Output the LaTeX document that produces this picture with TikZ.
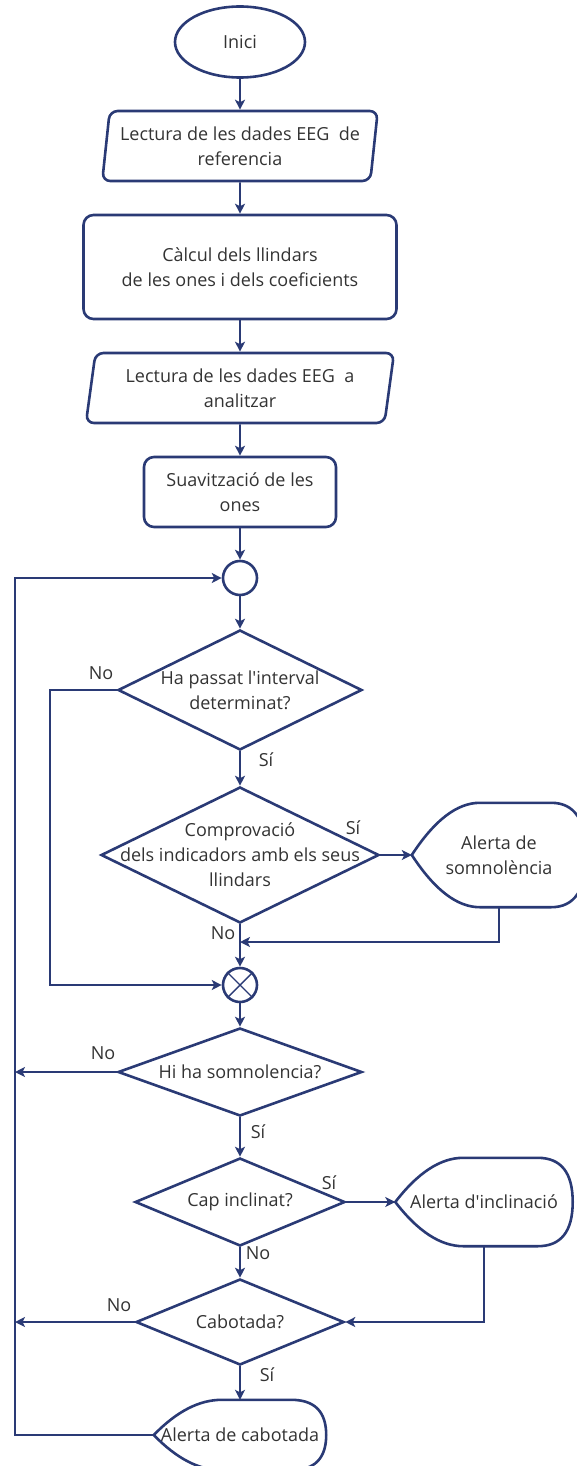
\documentclass[tikz,border=0pt]{standalone}
\usepackage{fontspec}
\setmainfont{Open Sans}
\usetikzlibrary{arrows.meta,calc,shapes.geometric}
\definecolor{cLine}{RGB}{42,58,117}
\definecolor{cText}{RGB}{51,51,51}
\tikzset{
  >={Stealth[length=10pt,width=10pt,inset=2.5pt]},
  shp/.style={draw=cLine,line width=2.6pt,text=cText,align=center,inner sep=0pt},
  term/.style={shp,ellipse,minimum width=130pt,minimum height=71pt},
  io/.style={shp,trapezium,trapezium stretches=true,rounded corners=8pt,
             minimum height=70pt},
  proc/.style={shp,rectangle,rounded corners=10pt},
  dec/.style={shp,diamond,minimum width=244pt,minimum height=88pt},% text goes in as label
  jn/.style={shp,circle,minimum size=34pt},
  disp/.style={align=center,text=cText,inner sep=0pt,minimum width=174pt},
  flow/.style={->,draw=cLine,line width=1.6pt},
  lbl/.style={text=cText,inner sep=0pt},
}

\begin{document}
\begin{tikzpicture}[x=1pt,y=-1pt,font=\fontsize{18}{25}\selectfont]
  \useasboundingbox (0,0) rectangle (577,1466);

  \node[term] (inici) at (240,42) {Inici};
  \node[io,minimum width=276pt,trapezium left angle=80,trapezium right angle=100]
       (lect1) at (240,146) {Lectura de les dades EEG~ de\\referencia};
  \node[proc,minimum width=313pt,minimum height=104pt] (calc) at (240,267)
       {Càlcul dels llindars\\de les ones i dels coeficients};
  \node[io,minimum width=309pt,trapezium left angle=79,trapezium right angle=101]
       (lect2) at (240,388) {Lectura de les dades EEG~ a\\analitzar};
  \node[proc,minimum width=192pt,minimum height=70pt] (suav) at (240,492)
       {Suavització de les\\ones};
  \node[jn] (c1) at (240,578) {};
  \node[dec,minimum height=120pt,
        label={[lbl,align=center]center:Ha passat l\textquotesingle interval\\determinat?}]
       (d1) at (240,690) {};
  \node[dec,minimum width=278pt,minimum height=136pt,
        label={[lbl,align=center]center:Comprovació\\dels indicadors amb els seus\\llindars}]
       (d2) at (240,855) {};
  \node[disp,minimum height=104pt] (alert1) at (499,855) {Alerta de\\somnolència};
  \node[jn] (c2) at (240,985) {};
  \node[dec,label={[lbl]center:Hi ha somnolencia?}] (d3) at (240,1072) {};
  \node[dec,minimum width=210pt,label={[lbl]center:Cap inclinat?}] (d4) at (240,1202) {};
  \node[disp,minimum width=177pt,minimum height=88pt] (alert2) at (484,1202)
       {Alerta d\textquotesingle inclinació};
  \node[dec,minimum width=208pt,minimum height=86pt,label={[lbl]center:Cabotada?}]
       (d5) at (240,1322) {};
  \node[disp,minimum width=172pt,minimum height=70pt] (alert3) at (240,1435)
       {Alerta de cabotada};

  \newcommand{\dispout}[1]{%
    \draw[shp] (#1.west)
      .. controls ($(#1.west)!0.667!(#1.north west)+(22.7,0)$)
             and ($(#1.north west)+(45.3,0)$) .. ($(#1.north west)+(68,0)$)
      -- ($(#1.north east)+(-35,0)$)
      .. controls ($(#1.north east)+(-11.7,0)$)
             and ($(#1.east)!0.667!(#1.north east)$) .. (#1.east)
      .. controls ($(#1.east)!0.667!(#1.south east)$)
             and ($(#1.south east)+(-11.7,0)$) .. ($(#1.south east)+(-35,0)$)
      -- ($(#1.south west)+(68,0)$)
      .. controls ($(#1.south west)+(45.3,0)$)
             and ($(#1.west)!0.667!(#1.south west)+(22.7,0)$) .. (#1.west) -- cycle;}
  \dispout{alert1}\dispout{alert2}\dispout{alert3}
  \draw[cLine,line width=1.4pt] (c2.45) -- (c2.225) (c2.135) -- (c2.315);

  \coordinate (b1) at (50,985);
  \coordinate (l0) at (15,578);
  \coordinate (m1) at (240,942);

  \foreach \a/\b in {inici/lect1,lect1/calc,calc/lect2,lect2/suav,suav/c1,c1/d1,
                     d1/d2,d2/c2,c2/d3,d3/d4,d4/d5,d5/alert3}
    \draw[flow] (\a) -- (\b);
  \draw[flow] (d1.west) -| (b1) -- (c2.west);
  \draw[flow] (d2.east) -- (alert1.west);
  \draw[flow] (alert1.south) |- (m1);
  \draw[flow] (d3.west) -- (d3.west -| l0);
  \draw[flow] (d4.east) -- (alert2.west);
  \draw[flow] (alert2.south) |- (d5.east);
  \draw[flow] (d5.west) -- (d5.west -| l0);
  \draw[flow] (alert3.west) -| (l0) -- (c1.west);

  \node[lbl] (n1) at (101,673) {No};
  \node[lbl] (s1) at (266,760) {Sí};
  \node[lbl] (s2) at (353,828) {Sí};
  \node[lbl] (n2) at (223,933) {No};
  \node[lbl] (n3) at (103,1053) {No};
  \node[lbl] (s3) at (258,1132) {Sí};
  \node[lbl] (s4) at (329,1183) {Sí};
  \node[lbl] (n4) at (258,1253) {No};
  \node[lbl] (n5) at (119,1305) {No};
  \node[lbl] (s5) at (267,1375) {Sí};
\end{tikzpicture}
\end{document}
